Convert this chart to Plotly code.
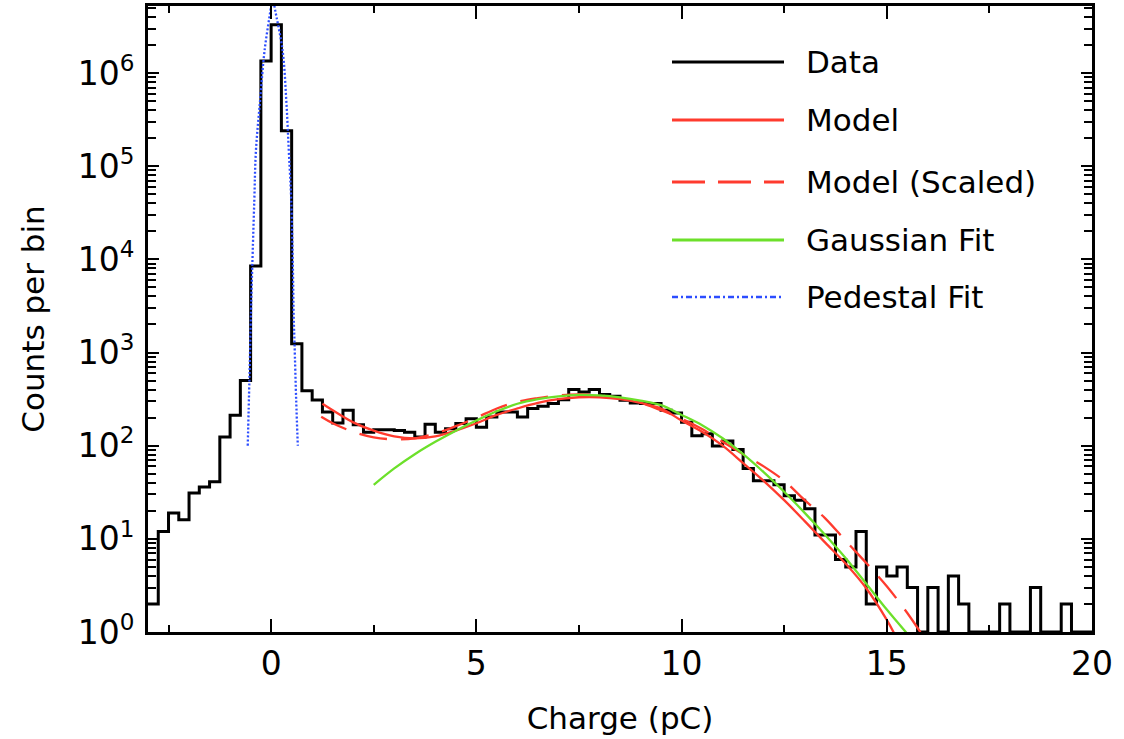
import plotly.graph_objects as go

# ---------------- data ----------------
BIN_START = -3.0      # left edge of first histogram bin (pC)
BIN_WIDTH = 0.25      # histogram bin width (pC)

counts = [
    2, 12, 19, 16, 31, 36, 41, 124, 212, 500,
    8500, 1350000, 3300000, 240000, 1240, 390, 310, 230, 175, 240,
    168, 139, 148, 148, 146, 139, 124, 170, 139, 152,
    173, 195, 158, 203, 230, 230, 203, 250, 265, 283,
    312, 400, 377, 400, 355, 340, 307, 288, 283, 283,
    240, 224, 178, 128, 134, 99, 112, 91, 57, 42,
    42, 38, 29, 26, 21, 11, 11, 6, 5, 12,
    2, 5, 4, 5, 3, 1, 3, 1, 4, 2,
    1, 1, 1, 2, 1, 1, 3, 1, 1, 2,
    1, 1,
]

model_x = [1.25, 1.5, 2.0, 2.5, 3.0, 3.5, 4.0, 4.5, 5.0, 5.5, 6.0, 6.5, 7.0, 7.5,
           8.0, 8.5, 9.0, 9.5, 10.0, 10.5, 11.0, 11.5, 12.0, 12.5, 13.0, 13.5,
           14.0, 14.5, 15.0, 15.2]
model_y = [282, 240, 178, 145, 126, 120, 126, 145, 174, 214, 251, 288, 316, 331,
           331, 316, 288, 251, 186, 141, 100, 65, 42, 26, 15.5, 9.1,
           5.4, 2.95, 1.35, 0.93]

scaled_x = [1.22, 1.5, 2.0, 2.5, 3.0, 3.5, 4.0, 4.5, 5.0, 5.5, 6.0, 6.5, 7.0, 7.5,
            8.0, 8.5, 9.0, 9.5, 10.0, 10.5, 11.0, 11.5, 12.0, 12.5, 13.0, 13.5,
            14.0, 14.5, 15.0, 15.5, 15.85]
scaled_y = [204, 174, 141, 123, 117, 120, 135, 162, 200, 251, 295, 324, 347, 355,
            347, 324, 288, 240, 195, 151, 110, 81, 60, 42, 26, 16.6,
            9.5, 5.5, 3.1, 1.6, 0.95]

gauss_x = [2.5, 3.0, 3.5, 4.0, 4.5, 5.0, 5.5, 6.0, 6.5, 7.0, 7.5, 8.0, 8.5, 9.0,
           9.5, 10.0, 10.5, 11.0, 11.5, 12.0, 12.5, 13.0, 13.5, 14.0, 14.5,
           15.0, 15.6]
gauss_y = [38, 57, 81, 110, 145, 186, 234, 282, 316, 339, 351, 347, 331, 305,
           272, 214, 166, 120, 81, 52, 32, 19, 11, 6.2, 3.3,
           1.74, 0.85]

ped_x = [-0.57, -0.53, -0.49, -0.46, -0.41, -0.37, -0.27, -0.16, 0.0, 0.04,
         0.08, 0.28, 0.37, 0.43, 0.49, 0.53, 0.55, 0.57, 0.61, 0.65]
ped_y = [100, 500, 2800, 8300, 42700, 148000, 501000, 1740000, 5250000, 7000000,
         5250000, 1740000, 501000, 148000, 42700, 8300, 2400, 1260, 310, 100]

x_ticks = [0, 5, 10, 15, 20]
y_ticks = [1, 10, 100, 1000, 10000, 100000, 1000000]
y_tick_text = ["10<sup>0</sup>", "10<sup>1</sup>", "10<sup>2</sup>", "10<sup>3</sup>",
               "10<sup>4</sup>", "10<sup>5</sup>", "10<sup>6</sup>"]

series_names = ["Data", "Model", "Model (Scaled)", "Gaussian Fit", "Pedestal Fit"]

# ---------------- styles ----------------
BLACK = "#000000"
RED = "#FF3B2E"
GREEN = "#6CE02A"
BLUE = "#2C4DFF"
FONT = "DejaVu Sans"

edges = [BIN_START + BIN_WIDTH * i for i in range(len(counts) + 1)]
step_y = counts + [counts[-1]]

fig = go.Figure()
fig.add_trace(go.Scatter(x=edges, y=step_y, mode="lines", name=series_names[0],
                         line=dict(color=BLACK, width=3, shape="hv")))
fig.add_trace(go.Scatter(x=model_x, y=model_y, mode="lines", name=series_names[1],
                         line=dict(color=RED, width=2.3, shape="spline")))
fig.add_trace(go.Scatter(x=scaled_x, y=scaled_y, mode="lines", name=series_names[2],
                         line=dict(color=RED, width=2.3, shape="spline", dash="28px,14px")))
fig.add_trace(go.Scatter(x=gauss_x, y=gauss_y, mode="lines", name=series_names[3],
                         line=dict(color=GREEN, width=2.3, shape="spline")))
fig.add_trace(go.Scatter(x=ped_x, y=ped_y, mode="lines", name=series_names[4],
                         line=dict(color=BLUE, width=2.3, shape="spline", dash="2px,2px")))

# plot area in pixels
L, R, T, B = 148, 1092, 6, 632
W, H = 1124, 739


def px(xp):
    return (xp - L) / (R - L)


def py(yp):
    return (B - yp) / (B - T)


fig.update_layout(
    width=W, height=H,
    margin=dict(l=L, r=W - R, t=T, b=H - B, pad=0),
    paper_bgcolor="white", plot_bgcolor="white",
    font=dict(family=FONT, color=BLACK),
    showlegend=False,
)

fig.update_xaxes(
    range=[-3, 20], tickmode="array", tickvals=x_ticks,
    ticks="inside", ticklen=13, tickwidth=2, tickcolor=BLACK,
    minor=dict(ticks="inside", ticklen=7, tickwidth=2, tickcolor=BLACK,
               tick0=0, dtick=2.5, showgrid=False),
    showline=True, linecolor=BLACK, linewidth=2.8, mirror="ticks",
    showgrid=False, zeroline=False,
    tickfont=dict(size=33, family=FONT, color=BLACK),
    title=dict(text="Charge (pC)", font=dict(size=31, family=FONT, color=BLACK),
               standoff=26),
    automargin=False,
)

fig.update_yaxes(
    type="log", range=[0, 6.72], tickmode="array", tickvals=y_ticks, ticktext=y_tick_text,
    ticks="inside", ticklen=11, tickwidth=2, tickcolor=BLACK,
    minor=dict(ticks="inside", ticklen=8, tickwidth=2, tickcolor=BLACK,
               dtick="D1", showgrid=False),
    showline=True, linecolor=BLACK, linewidth=2.8, mirror="ticks",
    showgrid=False, zeroline=False,
    ticklabelstandoff=4,
    tickfont=dict(size=33, family=FONT, color=BLACK),
    title=dict(text="Counts per bin", font=dict(size=31, family=FONT, color=BLACK),
               standoff=24),
    automargin=False,
)

# manual legend (long line samples as in the reference)
legend_rows = [62, 120, 182, 240, 297]
legend_styles = [
    dict(color=BLACK, width=2.8, dash="solid"),
    dict(color=RED, width=2.8, dash="solid"),
    dict(color=RED, width=2.8, dash="33px,13px"),
    dict(color=GREEN, width=2.8, dash="solid"),
    dict(color=BLUE, width=2.3, dash="6px,3px,2px,3px"),
]
shapes = []
annotations = []
for name, yrow, st in zip(series_names, legend_rows, legend_styles):
    shapes.append(dict(type="line", xref="paper", yref="paper",
                       x0=px(672), x1=px(784), y0=py(yrow), y1=py(yrow), line=st))
    annotations.append(dict(text=name, xref="paper", yref="paper",
                            x=px(804), y=py(yrow), xanchor="left", yanchor="middle",
                            showarrow=False,
                            font=dict(size=31, family=FONT, color=BLACK)))
fig.update_layout(shapes=shapes, annotations=annotations)

fig.write_html("out.html", config={"displayModeBar": False},
               post_script="document.body.style.margin='0px';")
